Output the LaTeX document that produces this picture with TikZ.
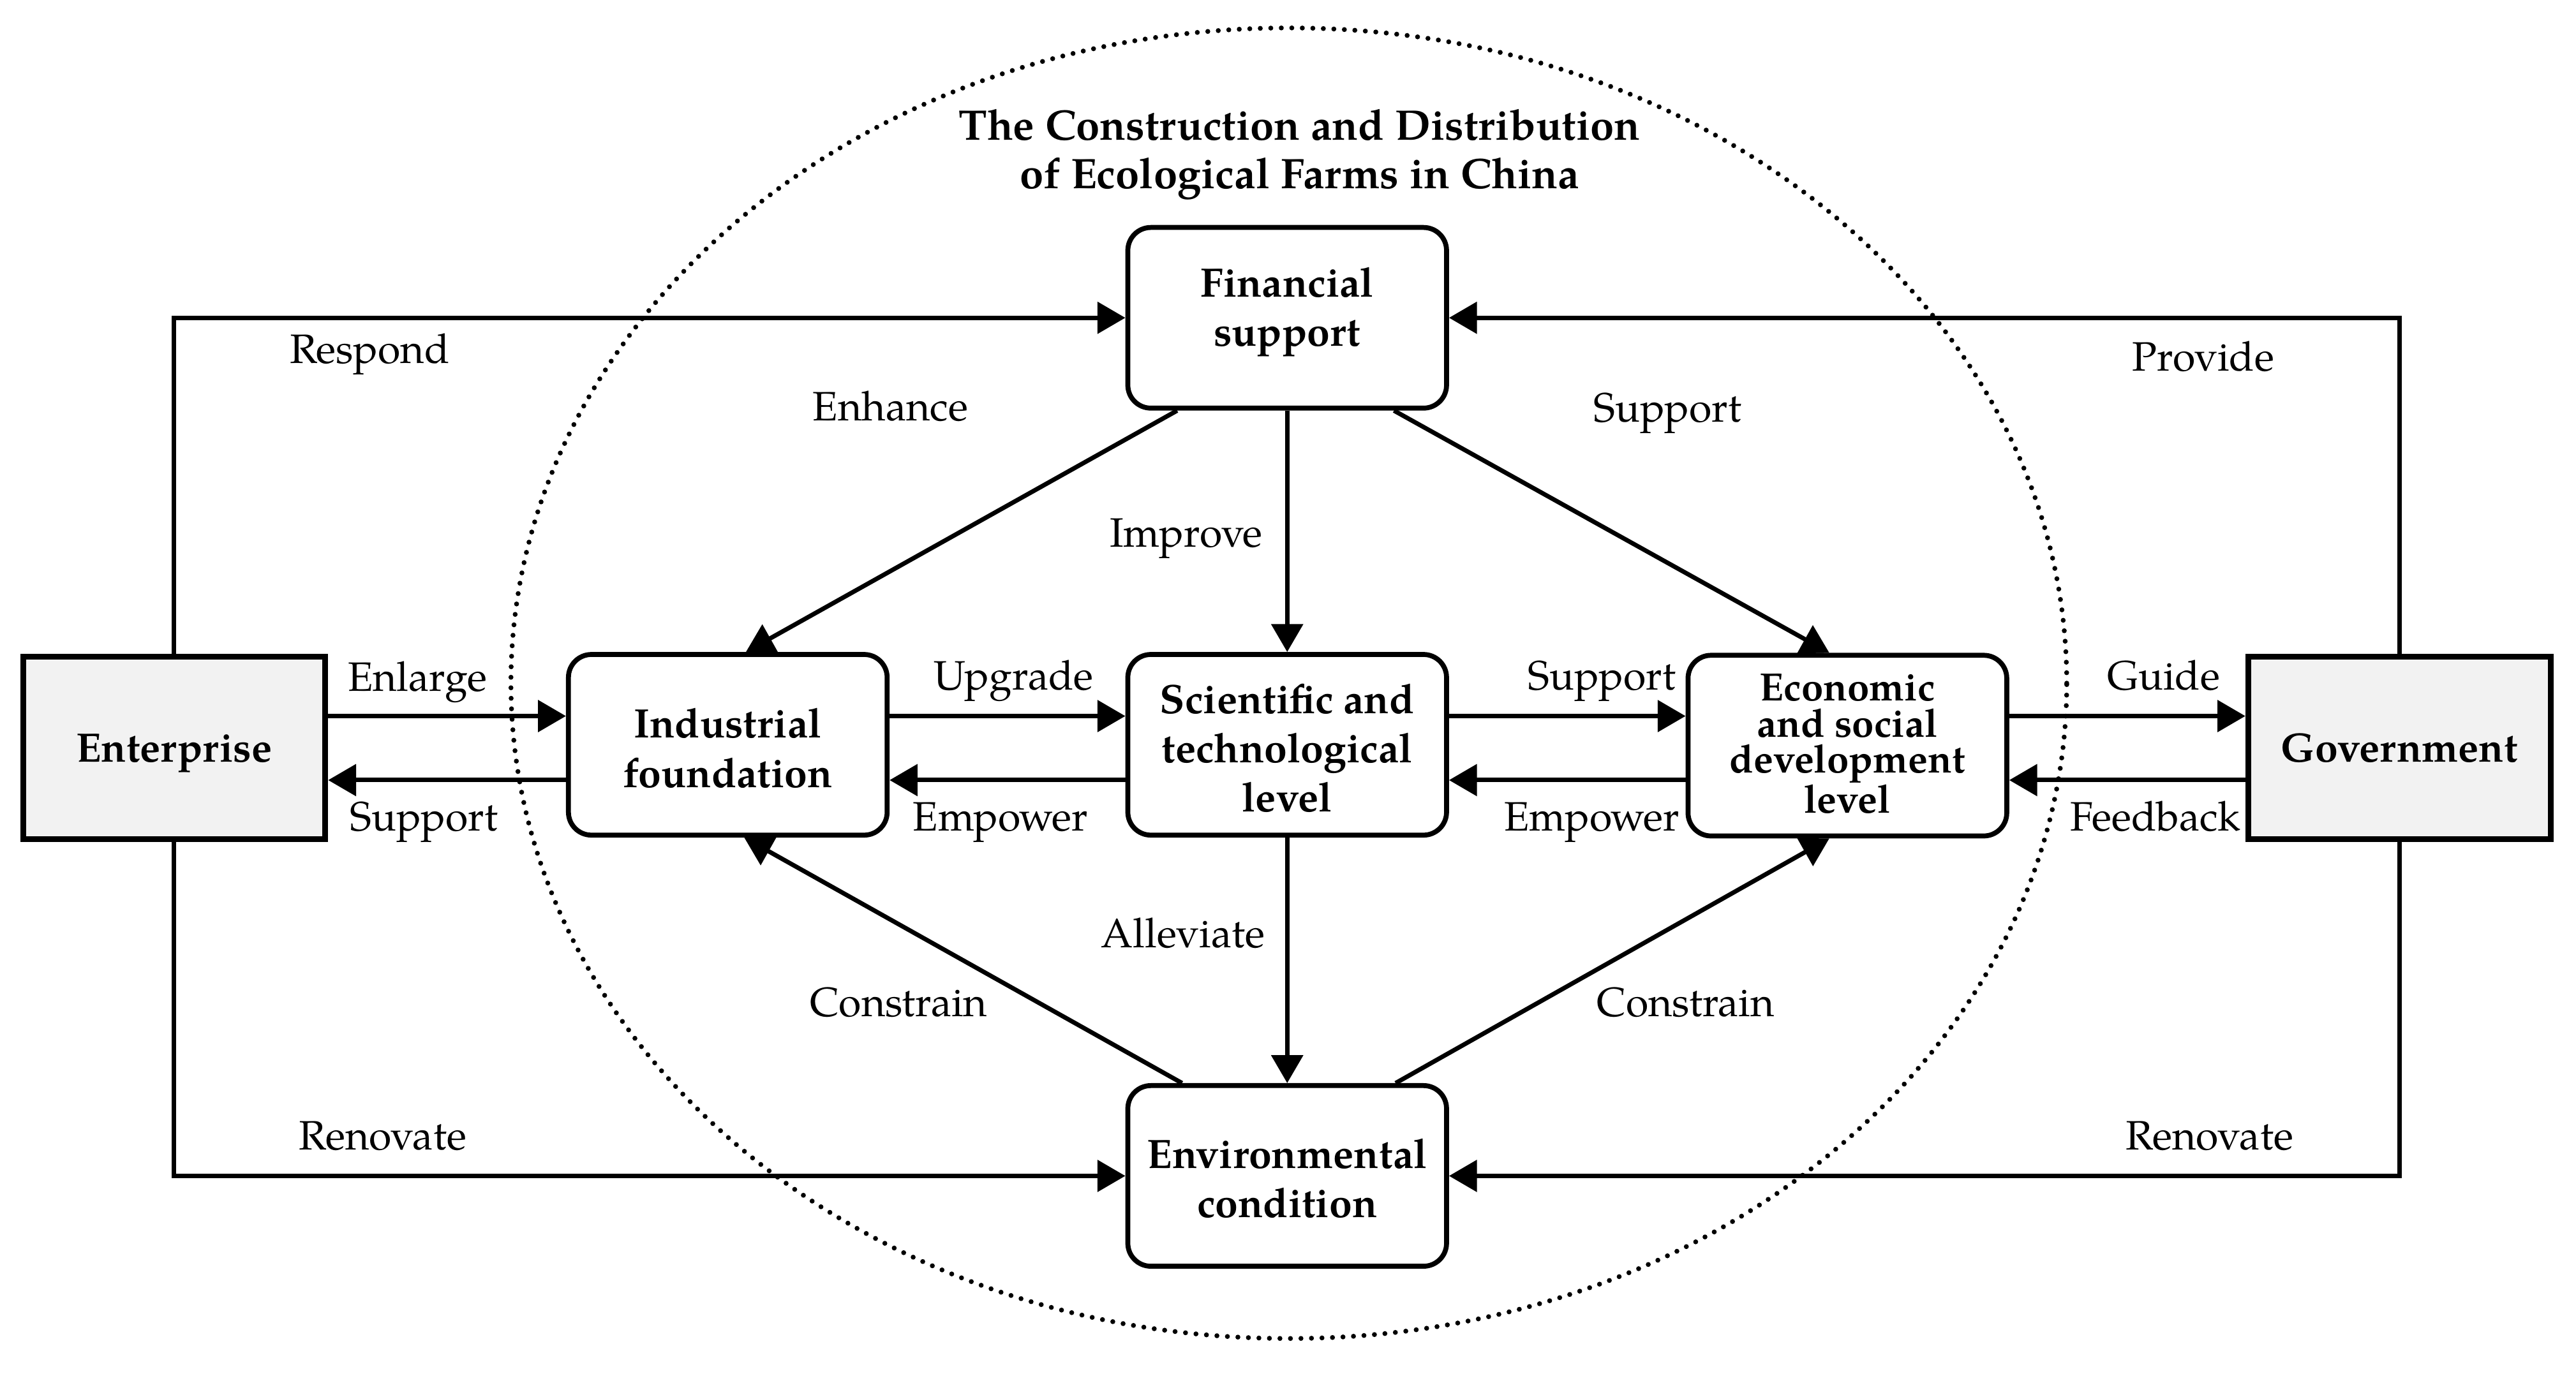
\documentclass[tikz,border=0pt]{standalone}
\usepackage{fontspec}
\setmainfont{TeX Gyre Pagella}
\usetikzlibrary{arrows.meta,calc}
\begin{document}
\begin{tikzpicture}[x=1pt,y=-1pt,
  rbox/.style={draw,rounded corners=14pt,line width=3pt,fill=white,minimum width=194pt,minimum height=110pt},
  sbox/.style={draw,line width=3.5pt,fill=black!5,minimum width=184pt,minimum height=111pt},
  tx/.style={align=center,inner sep=0pt,font=\fontsize{25}{30}\selectfont\bfseries},
  arr/.style={line width=2.7pt,-{Triangle[length=17pt,width=19pt]}},
  lbl/.style={anchor=base,font=\fontsize{25}{30}\selectfont,inner sep=0pt}]
\useasboundingbox (0,0) rectangle (1568,836.24);
% dotted ellipse
\draw[line width=3pt,line cap=round,dash pattern=on 0pt off 6.4pt] (784.5,416) ellipse [x radius=473.5pt,y radius=399pt];
% title
\node[align=center,font=\fontsize{26}{29.5}\selectfont\bfseries] (title) at (791,94) {The Construction and Distribution\\of Ecological Farms in China};
% nodes
\node[rbox,label={[tx,yshift=3.5pt]center:Financial\\support}] (fin) at (783.5,193.5) {};
\node[rbox,label={[tx,yshift=-2pt]center:Industrial\\foundation}] (ind) at (443,453.5) {};
\node[rbox,label={[tx,yshift=-2pt]center:Scientific and\\technological\\level}] (sci) at (783.5,453.5) {};
\node[rbox,label={[tx,yshift=1pt,font=\fontsize{24}{22}\selectfont\bfseries]center:Economic\\and social\\development\\level}] (eco) at (1124.5,454) {};
\node[rbox,label={[tx,yshift=-1.5pt]center:Environmental\\condition}] (env) at (783.5,716) {};
\node[sbox,label={[tx,yshift=-3pt]center:Enterprise}] (ent) at (106,455.5) {};
\node[sbox,label={[tx]center:Government}] (gov) at (1460.5,455.5) {};
% helper rows
\coordinate (yA) at (0,436);
\coordinate (yB) at (0,475);
% horizontal arrows
\draw[arr] (ent.east |- yA) -- (ind.west |- yA);
\draw[arr] (ind.west |- yB) -- (ent.east |- yB);
\draw[arr] (ind.east |- yA) -- (sci.west |- yA);
\draw[arr] (sci.west |- yB) -- (ind.east |- yB);
\draw[arr] (sci.east |- yA) -- (eco.west |- yA);
\draw[arr] (eco.west |- yB) -- (sci.east |- yB);
\draw[arr] (eco.east |- yA) -- (gov.west |- yA);
\draw[arr] (gov.west |- yB) -- (eco.east |- yB);
% verticals
\draw[arr] (fin.south) -- (sci.north);
\draw[arr] (sci.south) -- (env.north);
% diagonals
\draw[arr] ([xshift=-67pt]fin.south) -- ([xshift=11pt]ind.north);
\draw[arr] ([xshift=65pt]fin.south) -- ([xshift=-11pt]eco.north);
\draw[arr] ([xshift=-64pt]env.north) -- ([xshift=10pt]ind.south);
\draw[arr] ([xshift=66pt]env.north) -- ([xshift=-11pt]eco.south);
% outer loops
\draw[arr] (ent.north) |- (fin.west);
\draw[arr] (gov.north) |- (fin.east);
\draw[arr] (ent.south) |- (env.west);
\draw[arr] (gov.south) |- (env.east);
% labels
\node[lbl] (l1) at (225,221) {Respond};
\node[lbl] (l2) at (1341,226) {Provide};
\node[lbl] (l3) at (542,256) {Enhance};
\node[lbl] (l4) at (1015,257) {Support};
\node[lbl] (l5) at (722,333) {Improve};
\node[lbl] (l6) at (254,421) {Enlarge};
\node[lbl] (l7) at (258,506) {Support};
\node[lbl] (l8) at (617,420) {Upgrade};
\node[lbl] (l9) at (609,506) {Empower};
\node[lbl] (l10) at (975,420) {Support};
\node[lbl] (l11) at (969,506) {Empower};
\node[lbl] (l12) at (1317,420) {Guide};
\node[lbl] (l13) at (1312,506) {Feedback};
\node[lbl] (l14) at (720,577) {Alleviate};
\node[lbl] (l15) at (547,619) {Constrain};
\node[lbl] (l16) at (1026,619) {Constrain};
\node[lbl] (l17) at (233,700) {Renovate};
\node[lbl] (l18) at (1345,700) {Renovate};
\end{tikzpicture}
\end{document}
